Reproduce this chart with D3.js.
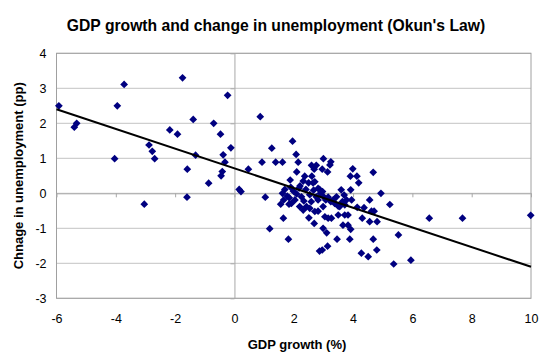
<!DOCTYPE html>
<html>
<head>
<meta charset="utf-8">
<script src="https://cdn.jsdelivr.net/npm/d3@7"></script>
<style>
  body { margin: 0; background: #fff; }
  svg { font-family: Arial, "Liberation Sans", sans-serif; }
</style>
</head>
<body>
<div id="chart"></div>
<script>
/* DATA */
const gdpGrowth = [
  -5.92, -5.40, -5.32, -4.04, -3.95, -3.72, -3.04, -2.88, -2.77, -2.69,
  -2.18, -1.92, -1.75, -1.39, -1.59, -1.31, -1.60, -0.87, -0.70, -0.47,
  -0.38, -0.32, -0.41, -0.45, -0.23, -0.12, 0.16, 0.22,
  0.87, 1.96, 1.26, 2.08, 0.93, 1.39, 1.62, 2.15, 0.47, 2.10,
  1.88, 1.04, 1.19, 1.82, 1.65, 1.56, 1.84,
  2.37, 2.61, 2.60, 2.76, 2.69, 3.00, 3.25, 3.22, 2.96, 3.14,
  2.71, 2.87, 2.50, 2.65,
  1.62, 1.70, 1.78, 1.85, 1.90, 1.99, 2.10, 2.18, 2.26, 2.34,
  2.41, 2.21, 2.32, 2.54, 2.67, 2.76, 2.82, 2.90, 2.82, 2.97,
  3.01, 3.08, 3.16, 3.25, 3.33, 3.38, 3.44, 3.50, 3.64, 3.78,
  1.66, 1.92, 2.04, 2.20, 2.43, 2.59, 2.32, 2.54, 2.71, 2.51,
  2.69, 2.82, 2.99, 3.55, 3.72, 3.95, 3.70,
  3.05, 3.16, 3.27, 3.50, 3.72, 3.83, 2.99, 3.11, 3.66, 3.83,
  3.92, 3.46, 3.89, 3.14, 2.96, 2.87, 4.14, 4.37, 4.56, 4.62,
  4.71, 4.31, 4.56, 4.81, 5.24, 5.53, 4.68, 4.28, 4.51, 4.80,
  5.37, 5.95,
  3.99, 3.91, 4.13, 4.19, 4.68, 3.60, 3.92, 4.94, 6.57, 7.69, 9.99
];
const unempChange = [
  2.50, 1.89, 2.00, 0.99, 2.50, 3.11, -0.31, 1.38, 1.20, 0.99,
  1.81, 1.69, 3.30, 2.11, 0.69, 1.09, -0.11, 0.29, 2.00, 1.69,
  1.10, 0.89, 0.62, 0.50, 2.80, 1.30, 0.11, 0.05,
  2.19, 1.49, 1.29, 1.11, 0.89, 0.89, 0.89, 0.89, 0.69, 0.61,
  0.38, -0.11, -1.01, -1.31, -0.71, -0.31, -0.31,
  0.49, 0.49, 0.80, 0.80, 0.69, 0.99, 0.90, 0.81, 0.69, 0.61,
  0.33, 0.11, 0.30, 0.30,
  0.00, 0.11, -0.08, -0.13, 0.17, 0.06, -0.02, 0.15, -0.10, -0.22,
  0.11, 0.21, 0.35, -0.04, 0.09, -0.10, -0.19, 0.00, 0.14, 0.05,
  -0.10, -0.19, -0.11, -0.24, -0.19, -0.29, -0.10, -0.37, -0.24, -0.19,
  -0.19, -0.29, -0.19, -0.38, -0.38, -0.24, -0.48, -0.43, -0.52, -0.70,
  -0.86, -0.51, -0.38, -0.38, -0.33, -0.19, -0.05,
  -0.67, -0.71, -0.71, -0.62, -0.62, -0.62, -1.00, -1.13, -0.91, -0.91,
  -1.03, -1.31, -1.31, -1.51, -1.62, -1.65, -0.40, -0.41, -0.19, -0.51,
  -0.51, -0.71, -0.81, -0.81, -0.32, -1.19, -1.31, -1.71, -1.81, -1.62,
  -2.02, -1.91,
  0.70, 0.49, 0.49, 0.30, 0.60, 0.10, 0.10, 0.00, -0.71, -0.71, -0.63
];
// fitted line end points
const trendX = [-6, 10];
const trendY = [2.40, -2.10];

const xTicks = [-6, -4, -2, 0, 2, 4, 6, 8, 10];
const yTicks = [-3, -2, -1, 0, 1, 2, 3, 4];

/* LAYOUT */
const width = 550,
  height = 364,
  margin = { top: 53.3, right: 19, bottom: 65.7, left: 56.5 };

const points = gdpGrowth.map((g, i) => ({ x: g, y: unempChange[i] }));

const svg = d3.select("#chart")
  .append("svg")
  .attr("width", width)
  .attr("height", height);

const xScale = d3.scaleLinear()
  .domain([-6, 10])
  .range([margin.left, width - margin.right]);

const yScale = d3.scaleLinear()
  .domain([-3, 4])
  .range([height - margin.bottom, margin.top]);

// horizontal gridlines
svg.append("g")
  .selectAll("line")
  .data(yTicks)
  .join("line")
  .attr("x1", margin.left)
  .attr("x2", width - margin.right)
  .attr("y1", d => yScale(d))
  .attr("y2", d => yScale(d))
  .attr("stroke", "#c4c4c4")
  .attr("stroke-width", 1);

// plot area border
svg.append("rect")
  .attr("x", margin.left)
  .attr("y", margin.top)
  .attr("width", width - margin.left - margin.right)
  .attr("height", height - margin.top - margin.bottom)
  .attr("fill", "none")
  .attr("stroke", "#a0a0a0");

// axes crossing at zero (ticks only)
const xAxisZero = svg.append("g")
  .attr("transform", `translate(0,${yScale(0)})`)
  .call(d3.axisBottom(xScale).tickValues(xTicks).tickSize(4).tickSizeOuter(0).tickFormat(""));
const yAxisZero = svg.append("g")
  .attr("transform", `translate(${xScale(0)},0)`)
  .call(d3.axisLeft(yScale).tickValues(yTicks).tickSize(4).tickSizeOuter(0).tickFormat(""));
[xAxisZero, yAxisZero].forEach(g => {
  g.selectAll("path, line").attr("stroke", "#a8a8a8");
});

// tick labels at low position
svg.append("g")
  .attr("class", "x-labels")
  .attr("transform", `translate(0,${height - margin.bottom})`)
  .call(d3.axisBottom(xScale).tickValues(xTicks).tickSize(0).tickPadding(16).tickFormat(d => String(d)))
  .call(g => g.select(".domain").remove());

svg.append("g")
  .attr("class", "y-labels")
  .attr("transform", `translate(${margin.left},0)`)
  .call(d3.axisLeft(yScale).tickValues(yTicks).tickSize(0).tickPadding(10).tickFormat(d => String(d)))
  .call(g => g.select(".domain").remove());

svg.selectAll(".x-labels text, .y-labels text")
  .attr("font-family", "Arial, 'Liberation Sans', sans-serif")
  .attr("font-size", 12.5)
  .attr("fill", "#000");

// points
svg.append("g")
  .selectAll("path")
  .data(points)
  .join("path")
  .attr("d", d3.symbol().type(d3.symbolSquare).size(30))
  .attr("transform", d => `translate(${xScale(d.x)},${yScale(d.y)}) rotate(45)`)
  .attr("fill", "#000080");

// trend line
svg.append("line")
  .attr("x1", xScale(trendX[0]))
  .attr("y1", yScale(trendY[0]))
  .attr("x2", xScale(trendX[1]))
  .attr("y2", yScale(trendY[1]))
  .attr("stroke", "#000")
  .attr("stroke-width", 2);

// title & axis titles
svg.append("text")
  .attr("x", 276)
  .attr("y", 31)
  .attr("text-anchor", "middle")
  .attr("font-weight", "bold")
  .attr("font-size", 15.7)
  .text("GDP growth and change in unemployment (Okun's Law)");

svg.append("text")
  .attr("x", 297)
  .attr("y", 349)
  .attr("text-anchor", "middle")
  .attr("font-weight", "bold")
  .attr("font-size", 13)
  .text("GDP growth (%)");

svg.append("text")
  .attr("transform", `translate(23,${(margin.top + height - margin.bottom) / 2}) rotate(-90)`)
  .attr("text-anchor", "middle")
  .attr("font-weight", "bold")
  .attr("font-size", 13)
  .text("Chnage in unemployment (pp)");
</script>
</body>
</html>
